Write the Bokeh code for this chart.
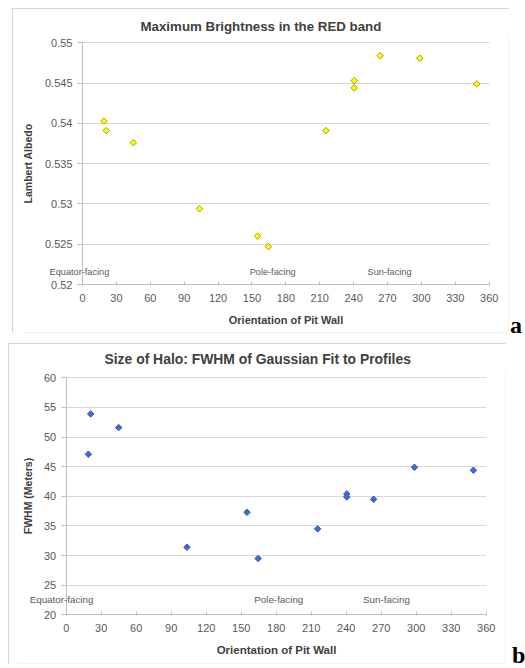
import math
from bokeh.plotting import figure
from bokeh.models import FixedTicker, Range1d, Div, Label
from bokeh.layouts import column, row
from bokeh.embed import file_html
from bokeh.resources import INLINE

# ---- data ----
orientation = [19, 21, 45, 103.5, 155, 164.5, 215.5, 240.5, 240.5, 263.5, 298.5, 349]
albedo_red = [0.5403, 0.5391, 0.5376, 0.5294, 0.5260, 0.5247, 0.5391, 0.5453, 0.5444, 0.5484, 0.5481, 0.5449]
fwhm_m = [47.1, 53.9, 51.6, 31.4, 37.3, 29.5, 34.5, 40.4, 39.9, 39.5, 44.9, 44.4]

x_ticks = [0, 30, 60, 90, 120, 150, 180, 210, 240, 270, 300, 330, 360]
ya_ticks = [0.52, 0.525, 0.53, 0.535, 0.54, 0.545, 0.55]
ya_labels = ["0.52", "0.525", "0.53", "0.535", "0.54", "0.545", "0.55"]
yb_ticks = [20, 25, 30, 35, 40, 45, 50, 55, 60]

region_names = ["Equator-facing", "Pole-facing", "Sun-facing"]

FONT = "Liberation Sans"
TICK_COLOR = "#595959"
TITLE_COLOR = "#404040"
GRID = "#d9d9d9"
AXIS = "#bfbfbf"


def make_panel(title, width, height, margin, ylim, x_px, y_px, frame):
    """x_px: pixel columns of x=0 and x=360; y_px: pixel rows of ylim[1] and ylim[0];
    frame: (left, top, right, bottom) borders.  The frame covers the axes' texts too,
    and both axes are pinned inside it, so nothing gets clipped."""
    fl, ft, fr, fb = frame
    x0, x1 = x_px
    ytop, ybot = y_px
    xs = (x1 - x0) / 360.0
    x_start = -(x0 - fl) / xs
    x_end = 360.0 + ((width - fr) - x1) / xs
    ys = (ybot - ytop) / (ylim[1] - ylim[0])
    y_end = ylim[1] + (ytop - ft) / ys
    y_start = ylim[0] - ((height - fb) - ybot) / ys
    p = figure(width=width, height=height, output_backend="svg", toolbar_location=None,
               x_range=Range1d(x_start, x_end), y_range=Range1d(y_start, y_end), title=title,
               min_border_left=fl, min_border_right=fr, min_border_top=ft, min_border_bottom=fb,
               margin=margin)
    p.xaxis[0].fixed_location = ylim[0]
    p.xaxis[0].bounds = (0, 360)
    p.yaxis[0].fixed_location = 0
    p.yaxis[0].bounds = ylim
    p.ygrid.cross_bounds = (0, 360)
    return p


def style(p, xlab, ylab, title_px, title_offset, title_standoff, xlab_px, ylab_px):
    p.title.align = "left"
    p.title.offset = title_offset
    p.title.text_font = FONT
    p.title.text_font_size = title_px
    p.title.text_font_style = "bold"
    p.title.text_color = TITLE_COLOR
    p.title.standoff = title_standoff
    p.outline_line_color = None
    p.xgrid.grid_line_color = None
    p.ygrid.grid_line_color = GRID
    p.ygrid.grid_line_width = 1
    for ax in (p.xaxis[0], p.yaxis[0]):
        ax.axis_line_color = AXIS
        ax.major_tick_line_color = AXIS
        ax.minor_tick_line_color = None
        ax.major_label_text_font = FONT
        ax.major_label_text_font_size = "11px"
        ax.major_label_text_color = TICK_COLOR
        ax.axis_label_text_font = FONT
        ax.axis_label_text_font_style = "bold"
        ax.axis_label_text_color = TITLE_COLOR
    p.xaxis[0].axis_label = xlab
    p.xaxis[0].axis_label_text_font_size = xlab_px
    p.yaxis[0].axis_label = ylab
    p.yaxis[0].axis_label_text_font_size = ylab_px
    p.xaxis[0].ticker = FixedTicker(ticks=x_ticks)
    p.xaxis[0].major_tick_in = 3
    p.xaxis[0].major_tick_out = 1
    p.xaxis[0].major_label_standoff = 8
    p.xaxis[0].axis_label_standoff = 9
    p.yaxis[0].major_tick_in = 0
    p.yaxis[0].major_tick_out = 5
    p.yaxis[0].major_label_standoff = 5
    p.yaxis[0].axis_label_standoff = 8
    p.styles = {"outline": "1px solid #c8c8c8", "outline-offset": "-1px"}


def region_labels(p, xs, y, font_px):
    for name, xx in zip(region_names, xs):
        p.add_layout(Label(x=xx, y=y, text=name, text_align="center", text_baseline="middle",
                           text_font=FONT, text_font_size=font_px, text_color=TICK_COLOR))


# ---- panel a ----
pa = make_panel("Maximum Brightness in the RED band", 497, 325, (8, 0, 0, 12),
                ylim=(0.52, 0.55), x_px=(70, 476.7), y_px=(34.3, 276), frame=(11, 28, 1, 1))
style(pa, "Orientation of Pit Wall", "Lambert Albedo", "13.3px", 117, 6, "11px", "10.5px")
pa.yaxis[0].ticker = FixedTicker(ticks=ya_ticks)
pa.yaxis[0].major_label_overrides = {t: s for t, s in zip(ya_ticks, ya_labels)}
pa.scatter(orientation, albedo_red, marker="square", angle=math.pi / 4, size=4.6,
           fill_color="#ffff00", line_color="#a3a300", line_width=1)
region_labels(pa, [-2.7, 168.3, 271.8], 0.5215, "9.2px")

# ---- panel b ----
pb = make_panel("Size of Halo: FWHM of Gaussian Fit to Profiles", 498, 321, (8, 0, 0, 8),
                ylim=(20, 60), x_px=(57.7, 477.7), y_px=(34.3, 271.3), frame=(10, 27, 1, 1))
style(pb, "Orientation of Pit Wall", "FWHM (Meters)", "13.9px", 86, 8, "11.5px", "10.5px")
pb.yaxis[0].ticker = FixedTicker(ticks=yb_ticks)
pb.yaxis[0].axis_label_standoff = 7
pb.scatter(orientation, fwhm_m, marker="square", angle=math.pi / 4, size=4.6,
           fill_color="#3d6fd3", line_color="#2f5cb8", line_width=1)
region_labels(pb, [-4.0, 182.2, 274.5], 22.6, "9.8px")

letter_css = "font-family:'Liberation Serif';font-weight:bold;font-size:24px;line-height:20px;color:#000;"
div_a = Div(text=f'<div style="{letter_css}">a</div>', width=14, height=20, margin=(315, 0, 0, 1))
div_b = Div(text=f'<div style="{letter_css}">b</div>', width=14, height=20, margin=(310, 0, 0, 6))

layout = column(row(pa, div_a), row(pb, div_b), spacing=0)

open("out.html", "w").write(file_html(layout, INLINE))
